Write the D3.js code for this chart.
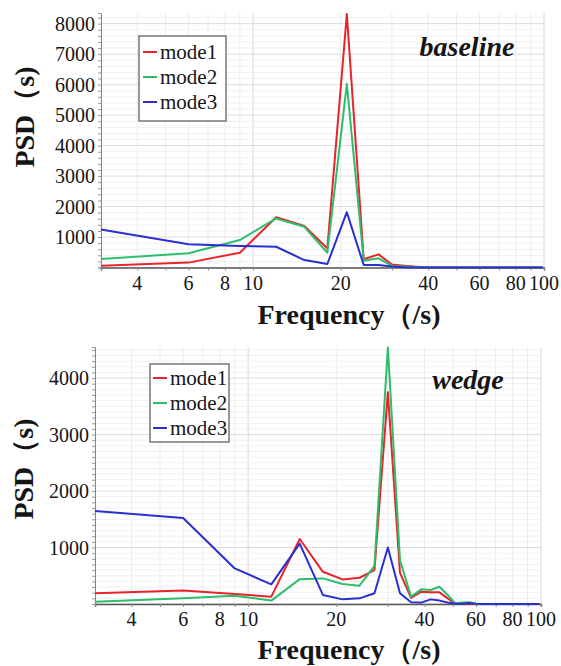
<!DOCTYPE html>
<html>
<head>
<meta charset="utf-8">
<script src="https://cdn.jsdelivr.net/npm/d3@7"></script>
<style>
  body { margin: 0; background: #fff; }
  #chart text { font-family: "Liberation Serif"; }
</style>
</head>
<body>
<svg id="chart" width="561" height="666"></svg>
<script>
// frequency samples (1/s)
const freq = [3, 6, 9, 12, 15, 18, 21, 24, 27, 30, 33, 36, 39, 42, 45, 48, 51,
  54, 57, 60, 63, 66, 69, 72, 75, 78, 81, 84, 87, 90, 93, 96, 99];

const seriesNames = ["mode1", "mode2", "mode3"];
const seriesColors = ["#e8242b", "#2dbe6c", "#2a2fd0"];

const xTickValues = [4, 6, 8, 10, 20, 40, 60, 80, 100];

// baseline case
const baseMode1 = [60, 160, 485, 1650, 1360, 625, 8315, 270, 430, 100, 60, 30, 10, 0, 0, 0, 0,
  0, 0, 0, 0, 0, 0, 0, 0, 0, 0, 0, 0, 0, 0, 0, 0];
const baseMode2 = [280, 465, 900, 1610, 1335, 485, 6025, 225, 300, 50, 30, 15, 5, 0, 0, 0, 0,
  0, 0, 0, 0, 0, 0, 0, 0, 0, 0, 0, 0, 0, 0, 0, 0];
const baseMode3 = [1250, 760, 705, 680, 245, 115, 1815, 80, 80, 30, 5, 0, 0, 0, 0, 0, 0,
  0, 0, 0, 0, 0, 0, 0, 0, 0, 0, 0, 0, 0, 0, 0, 0];
const baseYTicks = [1000, 2000, 3000, 4000, 5000, 6000, 7000, 8000];

// wedge case
const wedgeMode1 = [190, 240, 175, 130, 1150, 570, 435, 465, 600, 3750, 550, 110, 218, 206, 206, 100, 5,
  5, 5, 0, 0, 0, 0, 0, 0, 0, 0, 0, 0, 0, 0, 0, 0];
const wedgeMode2 = [40, 100, 147, 60, 440, 453, 353, 324, 676, 4540, 776, 130, 260, 247, 306, 160, 10,
  25, 30, 5, 0, 0, 0, 0, 0, 0, 0, 0, 0, 0, 0, 0, 0];
const wedgeMode3 = [1647, 1524, 630, 347, 1070, 160, 82, 100, 190, 1000, 190, 30, 25, 82, 60, 25, 5,
  5, 18, 5, 0, 0, 0, 0, 0, 0, 0, 0, 0, 0, 0, 0, 0];
const wedgeYTicks = [1000, 2000, 3000, 4000];

const svg = d3.select("#chart");

// every text goes through here so the serif face is set on the element itself
function label(parent, str, size, opts = {}) {
  return parent.append("text")
    .style("font-family", '"Liberation Serif"')
    .style("font-size", size + "px")
    .style("font-weight", opts.bold ? "bold" : "normal")
    .style("font-style", opts.italic ? "italic" : "normal")
    .attr("fill", "#151515")
    .text(str);
}

function drawPanel({ title, series, yMax, yTicks, yMinorStep, left, right, top, bottom,
  legend, titlePos, yLabelPos, xLabelY }) {
  const x = d3.scaleLog().domain([3, 100]).range([left, right]);
  const y = d3.scaleLinear().domain([0, yMax]).range([bottom, top]);
  const g = svg.append("g");

  // grid: minor first, then major
  const logMinor = d3.range(3, 10).concat(d3.range(10, 101, 10));
  const yMinor = d3.range(0, yMax, yMinorStep);
  g.append("g")
    .selectAll("line")
    .data(logMinor)
    .join("line")
    .attr("x1", (d) => x(d))
    .attr("x2", (d) => x(d))
    .attr("y1", top)
    .attr("y2", bottom)
    .attr("stroke", (d) => (d === 10 || d === 100 ? "#d6d6d6" : "#ececec"))
    .attr("stroke-width", 1);
  g.append("g")
    .selectAll("line")
    .data(yMinor)
    .join("line")
    .attr("x1", left)
    .attr("x2", right)
    .attr("y1", (d) => y(d))
    .attr("y2", (d) => y(d))
    .attr("stroke", (d) => (d % 1000 === 0 ? "#dcdcdc" : "#f0f0f0"))
    .attr("stroke-width", 1);

  // x axis
  const xAxis = g.append("g")
    .attr("transform", `translate(0,${bottom})`)
    .call(d3.axisBottom(x).tickValues(logMinor).tickSize(3).tickFormat(""));
  xAxis.select(".domain").attr("stroke", "#555").attr("stroke-width", 1.5);
  xAxis.selectAll(".tick line").attr("stroke", "#888");
  xAxis.selectAll(".tick text").remove();
  const xLabels = g.append("g");
  xTickValues.forEach((v) => {
    label(xLabels, v, 20)
      .attr("x", x(v))
      .attr("y", bottom + 22)
      .attr("text-anchor", "middle");
  });

  // y axis with minor ticks
  const yAxis = g.append("g")
    .attr("transform", `translate(${left},0)`)
    .call(d3.axisLeft(y).tickValues(yMinor.concat([yMax])).tickSize(3).tickFormat(""));
  yAxis.select(".domain").attr("stroke", "#888").attr("stroke-width", 1);
  yAxis.selectAll(".tick line").attr("stroke", "#999");
  yAxis.selectAll(".tick text").remove();
  const yLabels = g.append("g");
  yTicks.forEach((v) => {
    label(yLabels, v, 20)
      .attr("x", left - 6)
      .attr("y", y(v))
      .attr("dy", "0.35em")
      .attr("text-anchor", "end");
  });

  // lines
  const line = d3.line()
    .x((d, i) => x(freq[i]))
    .y((d) => y(d));
  g.append("g")
    .selectAll("path")
    .data(series)
    .join("path")
    .attr("d", (d) => line(d))
    .attr("fill", "none")
    .attr("stroke", (d, i) => seriesColors[i])
    .attr("stroke-width", 2)
    .attr("stroke-linejoin", "round");

  // legend
  const lg = g.append("g").attr("transform", `translate(${legend.x},${legend.y})`);
  lg.append("rect")
    .attr("width", legend.w)
    .attr("height", legend.h)
    .attr("fill", "#fff")
    .attr("stroke", "#777")
    .attr("stroke-width", 1.5);
  seriesNames.forEach((name, i) => {
    const cy = legend.first + i * 25;
    lg.append("line")
      .attr("x1", legend.lineX)
      .attr("x2", legend.lineX + 14)
      .attr("y1", cy)
      .attr("y2", cy)
      .attr("stroke", seriesColors[i])
      .attr("stroke-width", 2);
    label(lg, name, 21)
      .attr("x", legend.lineX + 17)
      .attr("y", cy)
      .attr("dy", "0.35em");
  });

  // case title
  label(g, title, 28, { bold: true, italic: true })
    .attr("x", titlePos[0])
    .attr("y", titlePos[1])
    .attr("text-anchor", "middle");

  // axis titles
  label(g, "PSD（s)", 28, { bold: true })
    .attr("transform", `translate(${yLabelPos[0]},${yLabelPos[1]}) rotate(-90)`)
    .attr("text-anchor", "middle");
  label(g, "Frequency（/s)", 28, { bold: true })
    .attr("x", 349)
    .attr("y", xLabelY)
    .attr("text-anchor", "middle");
}

drawPanel({
  title: "baseline",
  series: [baseMode1, baseMode2, baseMode3],
  yMax: 8350,
  yTicks: baseYTicks,
  yMinorStep: 200,
  left: 101,
  right: 544,
  top: 13,
  bottom: 267.5,
  legend: { x: 139, y: 36, w: 87, h: 85, first: 16, lineX: 4 },
  titlePos: [467, 56],
  yLabelPos: [34, 117],
  xLabelY: 324
});

drawPanel({
  title: "wedge",
  series: [wedgeMode1, wedgeMode2, wedgeMode3],
  yMax: 4550,
  yTicks: wedgeYTicks,
  yMinorStep: 100,
  left: 95,
  right: 541,
  top: 347,
  bottom: 604,
  legend: { x: 150, y: 364, w: 79, h: 78, first: 14, lineX: 3 },
  titlePos: [468, 389],
  yLabelPos: [33, 469],
  xLabelY: 659
});
</script>
</body>
</html>
